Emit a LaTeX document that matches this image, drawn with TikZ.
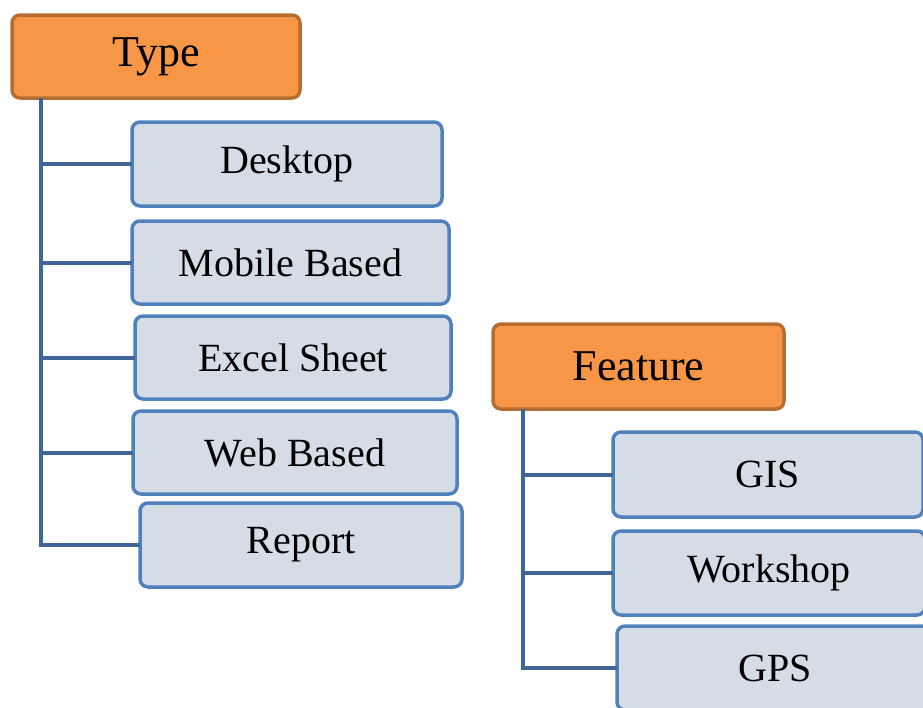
\documentclass[tikz,border=0pt]{standalone}
\usepackage{fontspec}
\setmainfont{Liberation Serif}
\definecolor{orfill}{HTML}{F79646}
\definecolor{ordraw}{HTML}{B66D31}
\definecolor{blfill}{HTML}{D6DCE6}
\definecolor{bldraw}{HTML}{4F81BD}
\definecolor{conncol}{HTML}{3F6696}
\begin{document}
\begin{tikzpicture}[x=1pt,y=-1pt,
  hdr/.style={draw=ordraw,fill=orfill,line width=3.5pt,rounded corners=8pt,
    anchor=north west,inner sep=0pt,outer sep=0pt,font=\fontsize{44}{46}\selectfont},
  item/.style={draw=bldraw,fill=blfill,line width=3.5pt,rounded corners=8pt,
    anchor=north west,inner sep=0pt,outer sep=0pt,font=\fontsize{40}{42}\selectfont},
  conn/.style={draw=conncol,line width=4pt}]
\useasboundingbox (0,0) rectangle (923,707);
\clip (0,0) rectangle (923,707);
\node[hdr,minimum width=288pt,minimum height=83pt] (type) at (12,15) {Type};
\node[item,minimum width=310pt,minimum height=84pt] (desktop) at (132,122) {Desktop};
\node[item,minimum width=317pt,minimum height=83pt] (mobile) at (132,221) {Mobile Based};
\node[item,minimum width=316pt,minimum height=83pt] (excel) at (135,316) {Excel Sheet};
\node[item,minimum width=324pt,minimum height=83pt] (web) at (133,411) {Web Based};
\node[item,minimum width=322pt,minimum height=84pt] (report) at (140,503) {Report};
\coordinate (tx) at (41,98);
\draw[conn] (tx) |- (report.west);
\foreach \n in {desktop,mobile,excel,web}{\draw[conn] (tx |- \n.west) -- (\n.west);}
\node[hdr,minimum width=291pt,minimum height=85pt] (feature) at (493,324) {Feature};
\node[item,minimum width=310pt,minimum height=85pt] (gis) at (613,432) {GIS};
\node[item,minimum width=312pt,minimum height=84pt] (workshop) at (613,531) {Workshop};
\node[item,minimum width=316pt,minimum height=84pt] (gps) at (617,626) {GPS};
\coordinate (fx) at (523,409);
\draw[conn] (fx) |- (gps.west);
\foreach \n in {gis,workshop}{\draw[conn] (fx |- \n.west) -- (\n.west);}
\end{tikzpicture}
\end{document}
